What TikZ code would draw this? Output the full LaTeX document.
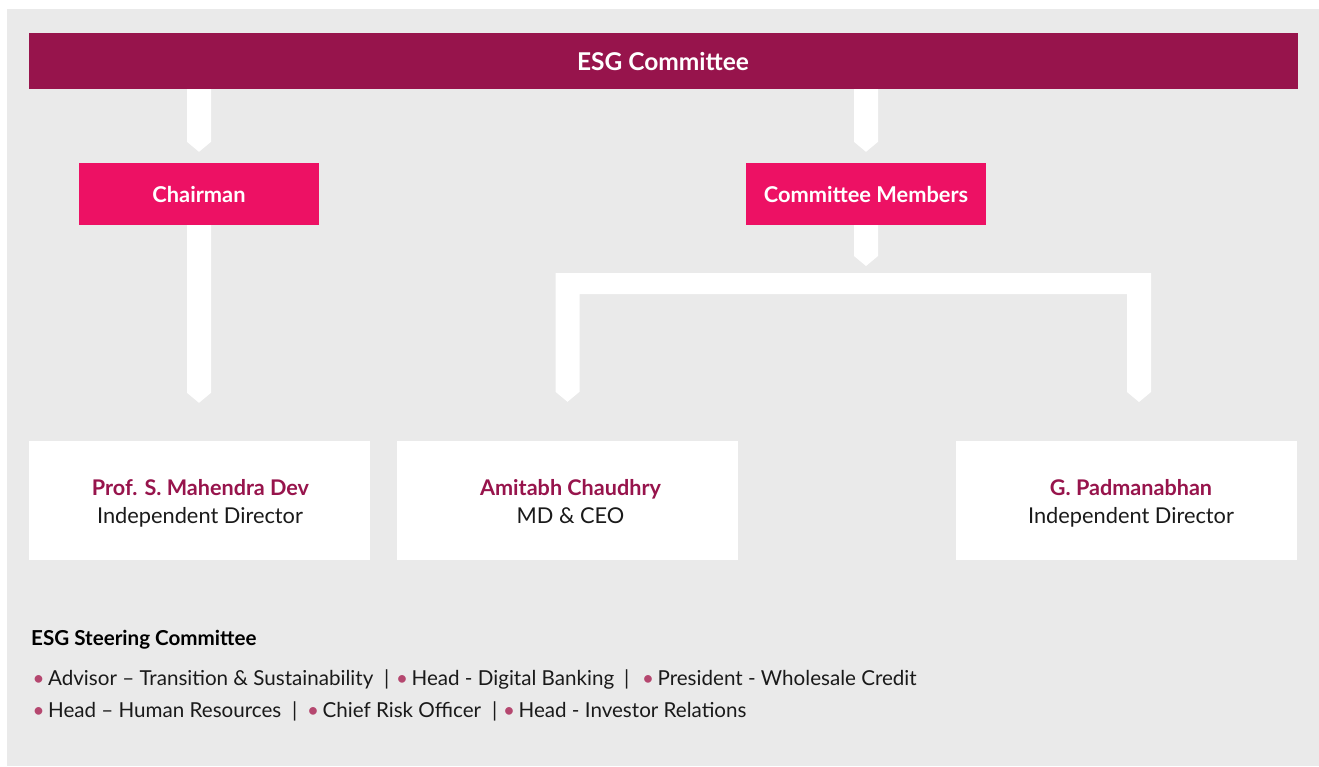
\documentclass[tikz,border=0pt]{standalone}
\usepackage{fontspec}
\setmainfont{Lato}
\usetikzlibrary{calc}
\definecolor{esgmaroon}{HTML}{97144C}
\definecolor{esgpink}{HTML}{ED1164}
\definecolor{esggray}{HTML}{EAEAEA}
\definecolor{esgtext}{HTML}{1A1A1A}
\definecolor{esgbullet}{HTML}{B5476F}
\newcommand{\bul}{{\color{esgbullet}•}\,}
\begin{document}
\begin{tikzpicture}[x=1pt,y=-1pt,
  topbar/.style={fill=esgmaroon, minimum width=1269pt, minimum height=56pt, inner sep=0pt},
  toptext/.style={anchor=base, text=white, font=\fontsize{24.5}{28}\selectfont\bfseries, inner sep=0pt},
  rolebox/.style={fill=esgpink, minimum width=240pt, minimum height=62pt, inner sep=0pt},
  roletext/.style={anchor=base, text=white, font=\fontsize{21.8}{26}\selectfont\bfseries, inner sep=0pt},
  personbox/.style={fill=white, minimum width=341pt, minimum height=119pt, inner sep=0pt},
  pname/.style={anchor=base, text=esgmaroon, font=\fontsize{21.6}{26}\selectfont\bfseries, inner sep=0pt},
  prole/.style={anchor=base, text=esgtext, font=\fontsize{21.8}{26}\selectfont, inner sep=0pt},
  conn/.style={fill=white},
  heading/.style={anchor=base west, font=\fontsize{20.6}{24}\selectfont\bfseries, text=black, inner sep=0pt},
  item/.style={anchor=base west, font=\fontsize{20.6}{24}\selectfont, text=esgtext, inner sep=0pt}]

\useasboundingbox (0,0) rectangle (1319,766);
\fill[esggray] (7,9) rectangle (1319,766);

% boxes
\node[topbar] (esg) at (663.5,61) {};
\node[toptext] (esgt) at (663,70) {ESG Committee};
\node[rolebox] (chair) at (199,194) {};
\node[roletext] (chairt) at (199,202) {Chairman};
\node[rolebox] (members) at (866,194) {};
\node[roletext] (memberst) at (866,202) {Committee Members};
\node[personbox] (p1) at (199.5,500.5) {};
\node[personbox] (p2) at (567.5,500.5) {};
\node[personbox] (p3) at (1126.5,500.5) {};

% person texts
\node[pname] (n1) at (200.5,495) {Prof. S. Mahendra Dev};
\node[prole] (r1) at (200,523) {Independent Director};
\node[pname] (n2) at (570.5,495) {Amitabh Chaudhry};
\node[prole] (r2) at (570.5,523) {MD \& CEO};
\node[pname] (n3) at (1131,495) {G. Padmanabhan};
\node[prole] (r3) at (1131,523) {Independent Director};

% connectors
\coordinate (brtop) at (866,273);
\coordinate (legL) at ($(p2.north)+(0,-39)$);
\coordinate (legR) at (1139,402);

\fill[conn] let \p1=(chair.north), \p2=(esg.south) in
  (\x1-12pt,\y2) -- (\x1+12pt,\y2) -- (\x1+12pt,\y1+21pt) -- (\x1,\y1+11pt) -- (\x1-12pt,\y1+21pt) -- cycle;
\fill[conn] let \p1=(members.north), \p2=(esg.south) in
  (\x1-12pt,\y2) -- (\x1+12pt,\y2) -- (\x1+12pt,\y1+21pt) -- (\x1,\y1+11pt) -- (\x1-12pt,\y1+21pt) -- cycle;
\fill[conn] let \p1=(p1.north), \p2=(chair.south) in
  (\x2-12pt,\y2) -- (\x2+12pt,\y2) -- (\x2+12pt,\y1+48pt) -- (\x2,\y1+38pt) -- (\x2-12pt,\y1+48pt) -- cycle;
\fill[conn] let \p1=(brtop), \p2=(members.south) in
  (\x2-12pt,\y2) -- (\x2+12pt,\y2) -- (\x2+12pt,\y1+17pt) -- (\x2,\y1+7pt) -- (\x2-12pt,\y1+17pt) -- cycle;
\fill[conn] let \p1=(legL), \p2=(legR), \p3=(brtop) in
  (\x1-12pt,\y3) -- (\x2+12pt,\y3) -- (\x2+12pt,\y2+10pt) -- (\x2,\y2) -- (\x2-12pt,\y2+10pt)
  -- (\x2-12pt,\y3-21pt) -- (\x1+12pt,\y3-21pt) -- (\x1+12pt,\y1+10pt) -- (\x1,\y1) -- (\x1-12pt,\y1+10pt) -- cycle;

% steering committee
\node[heading] (steer) at (31,645) {ESG Steering Committee};
\node[item] (i1) at (32.5,685) {\bul Advisor – Transition \& Sustainability};
\node[item] (s1) at (384,685) {|};
\node[item] (i2) at (396,685) {\bul Head - Digital Banking};
\node[item] (s2) at (624,685) {|};
\node[item] (i3) at (642,685) {\bul President - Wholesale Credit};
\node[item] (i4) at (32.5,717) {\bul Head – Human Resources};
\node[item] (s3) at (292,717) {|};
\node[item] (i5) at (307,717) {\bul Chief Risk Officer};
\node[item] (s4) at (492,717) {|};
\node[item] (i6) at (503,717) {\bul Head - Investor Relations};
\end{tikzpicture}
\end{document}
